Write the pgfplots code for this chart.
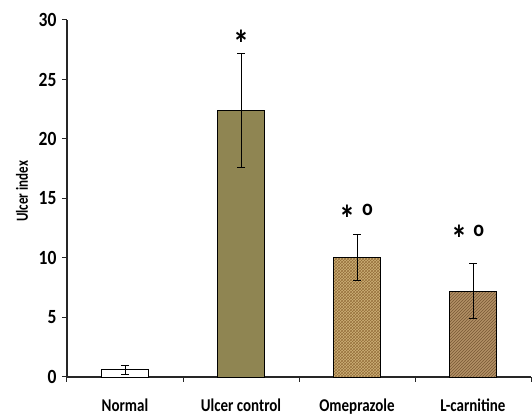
\documentclass[border=0pt]{standalone}
\usepackage{pgfplots}
\pgfplotsset{compat=1.18}
\usepackage{graphicx}
\usepackage{fontspec}
\setmainfont{Carlito}
\usetikzlibrary{patterns}
\definecolor{ulcer}{RGB}{143,133,82}
\definecolor{ome}{RGB}{206,178,120}
\definecolor{omeline}{RGB}{150,112,60}
\definecolor{lcar}{RGB}{178,144,102}
\definecolor{lcarline}{RGB}{120,88,52}
\begin{document}
\begin{tikzpicture}
\begin{axis}[
  scale only axis, width=464pt, height=357pt,
  xmin=-0.5, xmax=3.5, ymin=0, ymax=30,
  clip=false,
  axis x line=bottom, axis y line=left,
  axis line style={-, line width=1.3pt, black!85},
  xtick={-0.5,0.5,1.5,2.5,3.5}, xticklabels={},
  extra x ticks={0,1,2,3},
  extra x tick labels={\scalebox{1}[1.2]{Normal},\scalebox{1}[1.2]{Ulcer control},\scalebox{1}[1.2]{Omeprazole},\scalebox{1}[1.2]{L-carnitine}},
  extra x tick style={major tick length=0pt, xticklabel style={yshift=-18pt}},
  ytick={0,5,...,30},
  yticklabel={\scalebox{1}[1.15]{\pgfmathprintnumber{\tick}}},
  /pgf/number format/assume math mode=true,
  tick align=outside, major tick length=5pt,
  tick style={black!85, line width=1pt},
  tick label style={font=\bfseries\fontsize{15}{17}\selectfont},
  yticklabel style={font=\bfseries\fontsize{17.5}{19}\selectfont, xshift=-2pt},
  ylabel={\scalebox{1}[1.3]{Ulcer index}},
  ylabel style={font=\bfseries\fontsize{13}{15}\selectfont, at={(axis description cs:-0.097,0.52)}, anchor=center},
  bar width=47pt,
]
\addplot[ybar, bar shift=0pt, fill=white, draw=black, line width=0.9pt,
  error bars/.cd, y dir=both, y explicit,
  error bar style={black, line width=0.9pt},
  error mark options={rotate=90, mark size=4pt, black, line width=0.9pt}]
  coordinates {(0,0.6) +- (0,0.4)};
\addplot[ybar, bar shift=0pt, fill=ulcer, draw=black, line width=0.9pt,
  error bars/.cd, y dir=both, y explicit,
  error bar style={black, line width=0.9pt},
  error mark options={rotate=90, mark size=4pt, black, line width=0.9pt}]
  coordinates {(1,22.4) +- (0,4.75)};
\addplot[ybar, bar shift=0pt, fill=ome, draw=black, line width=0.9pt,
  postaction={pattern=crosshatch, pattern color=omeline},
  error bars/.cd, y dir=both, y explicit,
  error bar style={black, line width=0.9pt},
  error mark options={rotate=90, mark size=4pt, black, line width=0.9pt}]
  coordinates {(2,10.05) +- (0,1.9)};
\addplot[ybar, bar shift=0pt, fill=lcar, draw=black, line width=0.9pt,
  postaction={pattern=north east lines, pattern color=lcarline},
  error bars/.cd, y dir=both, y explicit,
  error bar style={black, line width=0.9pt},
  error mark options={rotate=90, mark size=4pt, black, line width=0.9pt}]
  coordinates {(3,7.2) +- (0,2.3)};
\node[font=\bfseries\fontsize{32}{32}\selectfont, anchor=center] at (axis cs:1,28.0) {\scalebox{1}[1.2]{*}};
\node[font=\bfseries\fontsize{32}{32}\selectfont, anchor=center] at (axis cs:1.92,13.3) {\scalebox{1}[1.2]{*}};
\node[font=\bfseries\fontsize{20}{20}\selectfont, anchor=center] at (axis cs:2.09,14.0) {\scalebox{1}[1.15]{o}};
\node[font=\bfseries\fontsize{32}{32}\selectfont, anchor=center] at (axis cs:2.88,11.6) {\scalebox{1}[1.2]{*}};
\node[font=\bfseries\fontsize{20}{20}\selectfont, anchor=center] at (axis cs:3.05,12.3) {\scalebox{1}[1.15]{o}};
\coordinate (ll) at (rel axis cs:0,0);
\coordinate (ur) at (rel axis cs:1,1);
\end{axis}
\pgfresetboundingbox
\path ([shift={(-67pt,-41pt)}]ll) rectangle ([shift={(1pt,20pt)}]ur);
\end{tikzpicture}
\end{document}
